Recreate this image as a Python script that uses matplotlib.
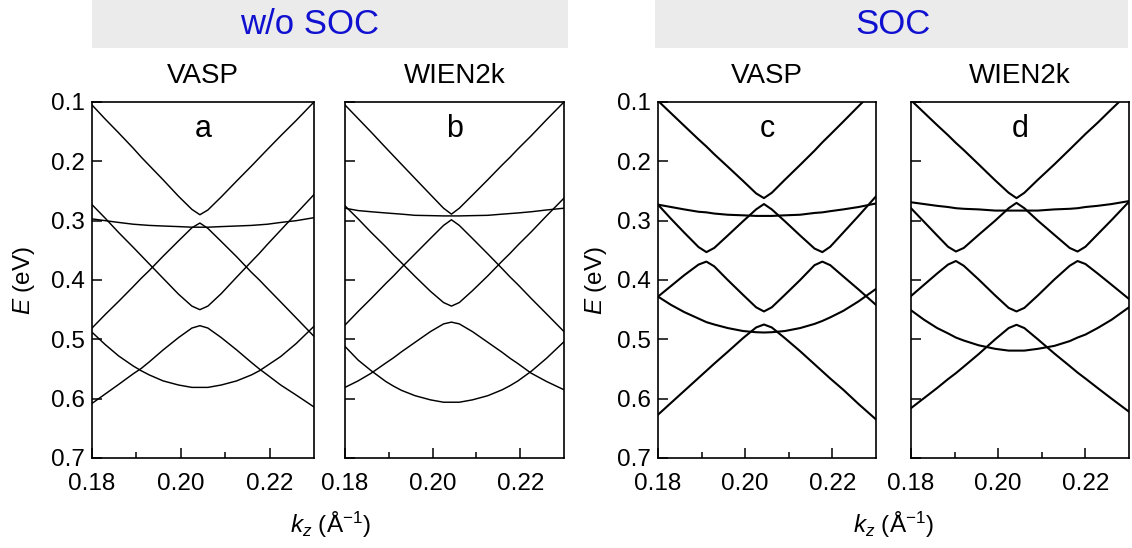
import matplotlib
matplotlib.use("Agg")
import matplotlib.pyplot as plt
from matplotlib.patches import Rectangle
from matplotlib.ticker import FixedLocator

plt.rcParams['font.family'] = ['Liberation Sans', 'DejaVu Sans']
plt.rcParams['mathtext.fontset'] = 'custom'
plt.rcParams['mathtext.rm'] = 'Liberation Sans'
plt.rcParams['mathtext.it'] = 'Liberation Sans:italic'

# k_z sampling (1/Å) for panels a-c and for panel d
k_grid = [0.1800, 0.1830, 0.1860, 0.1893, 0.1911, 0.1929, 0.1960, 0.1995, 0.2025, 0.2043,
          0.2061, 0.2091, 0.2126, 0.2159, 0.2177, 0.2195, 0.2225, 0.2260, 0.2300]
k_grid_d = [0.1800, 0.1830, 0.1860, 0.1885, 0.1903, 0.1921, 0.1955, 0.1993, 0.2024, 0.2042,
            0.2060, 0.2091, 0.2129, 0.2164, 0.2182, 0.2200, 0.2228, 0.2260, 0.2300]

# (a) VASP, without SOC -- band energies E (eV)
a_band1 = [0.105, 0.129, 0.152, 0.178, 0.193, 0.207, 0.231, 0.259, 0.281, 0.290,
           0.282, 0.260, 0.233, 0.208, 0.194, 0.180, 0.157, 0.131, 0.100]
a_band2 = [0.481, 0.458, 0.436, 0.411, 0.397, 0.384, 0.360, 0.334, 0.312, 0.304,
           0.313, 0.335, 0.361, 0.387, 0.400, 0.414, 0.437, 0.464, 0.495]
a_band3 = [0.273, 0.296, 0.320, 0.345, 0.359, 0.373, 0.397, 0.424, 0.444, 0.450,
           0.444, 0.423, 0.395, 0.369, 0.355, 0.340, 0.316, 0.288, 0.256]
a_band4 = [0.297, 0.300, 0.303, 0.306, 0.307, 0.308, 0.309, 0.310, 0.311, 0.311,
           0.311, 0.310, 0.309, 0.308, 0.307, 0.306, 0.303, 0.300, 0.295]
a_band5 = [0.608, 0.592, 0.576, 0.558, 0.549, 0.538, 0.518, 0.497, 0.481, 0.477,
           0.481, 0.497, 0.518, 0.539, 0.550, 0.560, 0.577, 0.594, 0.614]
a_band6 = [0.488, 0.509, 0.528, 0.545, 0.553, 0.560, 0.570, 0.577, 0.581, 0.581,
           0.581, 0.577, 0.570, 0.560, 0.553, 0.544, 0.529, 0.507, 0.478]

# (b) WIEN2k, without SOC
b_band1 = [0.105, 0.128, 0.151, 0.177, 0.191, 0.205, 0.229, 0.256, 0.279, 0.289,
           0.279, 0.257, 0.231, 0.206, 0.193, 0.179, 0.157, 0.130, 0.100]
b_band2 = [0.476, 0.453, 0.431, 0.406, 0.393, 0.379, 0.356, 0.330, 0.308, 0.2985,
           0.308, 0.330, 0.356, 0.381, 0.395, 0.408, 0.431, 0.457, 0.487]
b_band3 = [0.275, 0.297, 0.320, 0.344, 0.358, 0.371, 0.394, 0.419, 0.438, 0.444,
           0.438, 0.418, 0.393, 0.368, 0.355, 0.341, 0.319, 0.292, 0.262]
b_band4 = [0.279, 0.283, 0.285, 0.287, 0.288, 0.289, 0.291, 0.2915, 0.292, 0.292,
           0.292, 0.2915, 0.291, 0.289, 0.288, 0.287, 0.285, 0.282, 0.279]
b_band5 = [0.581, 0.570, 0.557, 0.540, 0.531, 0.521, 0.505, 0.487, 0.474, 0.471,
           0.474, 0.487, 0.505, 0.522, 0.532, 0.541, 0.557, 0.571, 0.585]
b_band6 = [0.512, 0.535, 0.553, 0.571, 0.579, 0.586, 0.595, 0.602, 0.606, 0.606,
           0.606, 0.602, 0.595, 0.585, 0.578, 0.570, 0.554, 0.532, 0.504]

# (c) VASP, with SOC
c_band1 = [0.098, 0.119, 0.140, 0.163, 0.175, 0.188, 0.209, 0.233, 0.254, 0.262,
           0.253, 0.231, 0.206, 0.182, 0.168, 0.155, 0.133, 0.107, 0.078]
c_band2 = [0.273, 0.277, 0.281, 0.285, 0.286, 0.288, 0.290, 0.291, 0.292, 0.292,
           0.292, 0.291, 0.290, 0.287, 0.286, 0.284, 0.281, 0.277, 0.271]
c_band3 = [0.273, 0.297, 0.320, 0.3445, 0.353, 0.346, 0.325, 0.301, 0.281, 0.272,
           0.281, 0.301, 0.325, 0.347, 0.353, 0.344, 0.320, 0.292, 0.259]
c_band4 = [0.428, 0.410, 0.392, 0.374, 0.369, 0.377, 0.400, 0.425, 0.446, 0.453,
           0.446, 0.425, 0.400, 0.375, 0.369, 0.375, 0.394, 0.416, 0.442]
c_band5 = [0.428, 0.442, 0.454, 0.465, 0.471, 0.475, 0.481, 0.486, 0.488, 0.4885,
           0.488, 0.486, 0.481, 0.474, 0.469, 0.463, 0.452, 0.436, 0.415]
c_band6 = [0.627, 0.607, 0.587, 0.565, 0.553, 0.541, 0.521, 0.498, 0.480, 0.475,
           0.480, 0.498, 0.520, 0.542, 0.554, 0.566, 0.585, 0.609, 0.635]

# (d) WIEN2k, with SOC
d_band1 = [0.097, 0.118, 0.139, 0.156, 0.169, 0.181, 0.205, 0.232, 0.253, 0.262,
           0.253, 0.231, 0.205, 0.180, 0.167, 0.154, 0.135, 0.112, 0.084]
d_band2 = [0.269, 0.272, 0.275, 0.277, 0.279, 0.280, 0.281, 0.283, 0.283, 0.283,
           0.283, 0.283, 0.281, 0.280, 0.279, 0.277, 0.275, 0.272, 0.267]
d_band3 = [0.279, 0.302, 0.325, 0.344, 0.352, 0.346, 0.324, 0.300, 0.279, 0.270,
           0.279, 0.300, 0.324, 0.346, 0.352, 0.344, 0.323, 0.299, 0.268]
d_band4 = [0.427, 0.408, 0.389, 0.374, 0.368, 0.376, 0.399, 0.426, 0.447, 0.453,
           0.447, 0.426, 0.399, 0.376, 0.368, 0.373, 0.389, 0.408, 0.432]
d_band5 = [0.451, 0.467, 0.481, 0.490, 0.497, 0.502, 0.510, 0.516, 0.519, 0.519,
           0.519, 0.516, 0.511, 0.503, 0.497, 0.492, 0.481, 0.467, 0.446]
d_band6 = [0.616, 0.599, 0.582, 0.567, 0.557, 0.546, 0.525, 0.500, 0.481, 0.4755,
           0.481, 0.500, 0.524, 0.545, 0.556, 0.566, 0.582, 0.600, 0.622]

x_major = [0.18, 0.20, 0.22]
x_minor = [0.19, 0.21]
x_ticklabels = ["0.18", "0.20", "0.22"]
y_ticks = [0.1, 0.2, 0.3, 0.4, 0.5, 0.6, 0.7]
y_ticklabels = ["0.1", "0.2", "0.3", "0.4", "0.5", "0.6", "0.7"]

panel_letters = ["a", "b", "c", "d"]
codes = ["VASP", "WIEN2k", "VASP", "WIEN2k"]
groups = ["w/o SOC", "SOC"]

W, H = 1132, 548
fig = plt.figure(figsize=(W / 100, H / 100), dpi=100)


def fx(px):
    return px / W


def fy(py):
    return 1 - py / H


# panel boxes in pixels: left, right
panel_px = [(92, 314), (345, 564), (658, 876), (911, 1129)]
top_px, bot_px = 102, 458

panels = [
    (k_grid, [a_band1, a_band2, a_band3, a_band4, a_band5, a_band6], 1.05),
    (k_grid, [b_band1, b_band2, b_band3, b_band4, b_band5, b_band6], 1.05),
    (k_grid, [c_band1, c_band2, c_band3, c_band4, c_band5, c_band6], 1.5),
    (k_grid_d, [d_band1, d_band2, d_band3, d_band4, d_band5, d_band6], 1.5),
]

tick_fs = 17.5
for i, ((l, r), (kk, bands, lw)) in enumerate(zip(panel_px, panels)):
    ax = fig.add_axes([fx(l), fy(bot_px), (r - l) / W, (bot_px - top_px) / H])
    for band in bands:
        ax.plot(kk, band, color="black", lw=lw, solid_joinstyle="round")
    ax.set_xlim(0.18, 0.23)
    ax.set_ylim(0.7, 0.1)
    ax.xaxis.set_major_locator(FixedLocator(x_major))
    ax.xaxis.set_minor_locator(FixedLocator(x_minor))
    ax.set_xticklabels(x_ticklabels)
    ax.set_yticks(y_ticks)
    if i in (0, 2):
        ax.set_yticklabels(y_ticklabels)
    else:
        ax.set_yticklabels([])
    ax.tick_params(axis="both", which="major", direction="in", length=7.5, width=1.1,
                   labelsize=tick_fs, pad=5)
    ax.tick_params(axis="x", which="minor", direction="in", length=4, width=1.1)
    ax.tick_params(axis="x", which="major", pad=10.5)
    for s in ax.spines.values():
        s.set_linewidth(1.2)
    ax.text(0.5, 0.925, panel_letters[i], transform=ax.transAxes, ha="center",
            va="center", fontsize=22)
    fig.text(fx((l + r) / 2), fy(76), codes[i], ha="center", va="center", fontsize=20)

# group headers: gray band with blue title
for (x0, x1), xc, label in zip([(92, 568), (655, 1128)], (310, 893), groups):
    fig.patches.append(Rectangle((fx(x0), fy(48)), (x1 - x0) / W, 48 / H,
                                 transform=fig.transFigure, facecolor="#ebebeb",
                                 edgecolor="none", zorder=0))
    fig.text(fx(xc), fy(25), label, ha="center", va="center",
             fontsize=25, color="#1010d0")

# axis titles
for xc in (24, 596):
    fig.text(fx(xc), fy(280), r"$E$ (eV)", rotation=90, ha="center", va="center",
             fontsize=tick_fs)
for xc in (330, 893):
    fig.text(fx(xc), fy(525), r"$k_z$ (Å$^{-1}$)", ha="center", va="center",
             fontsize=tick_fs)

fig.savefig("out.png", dpi=100)
